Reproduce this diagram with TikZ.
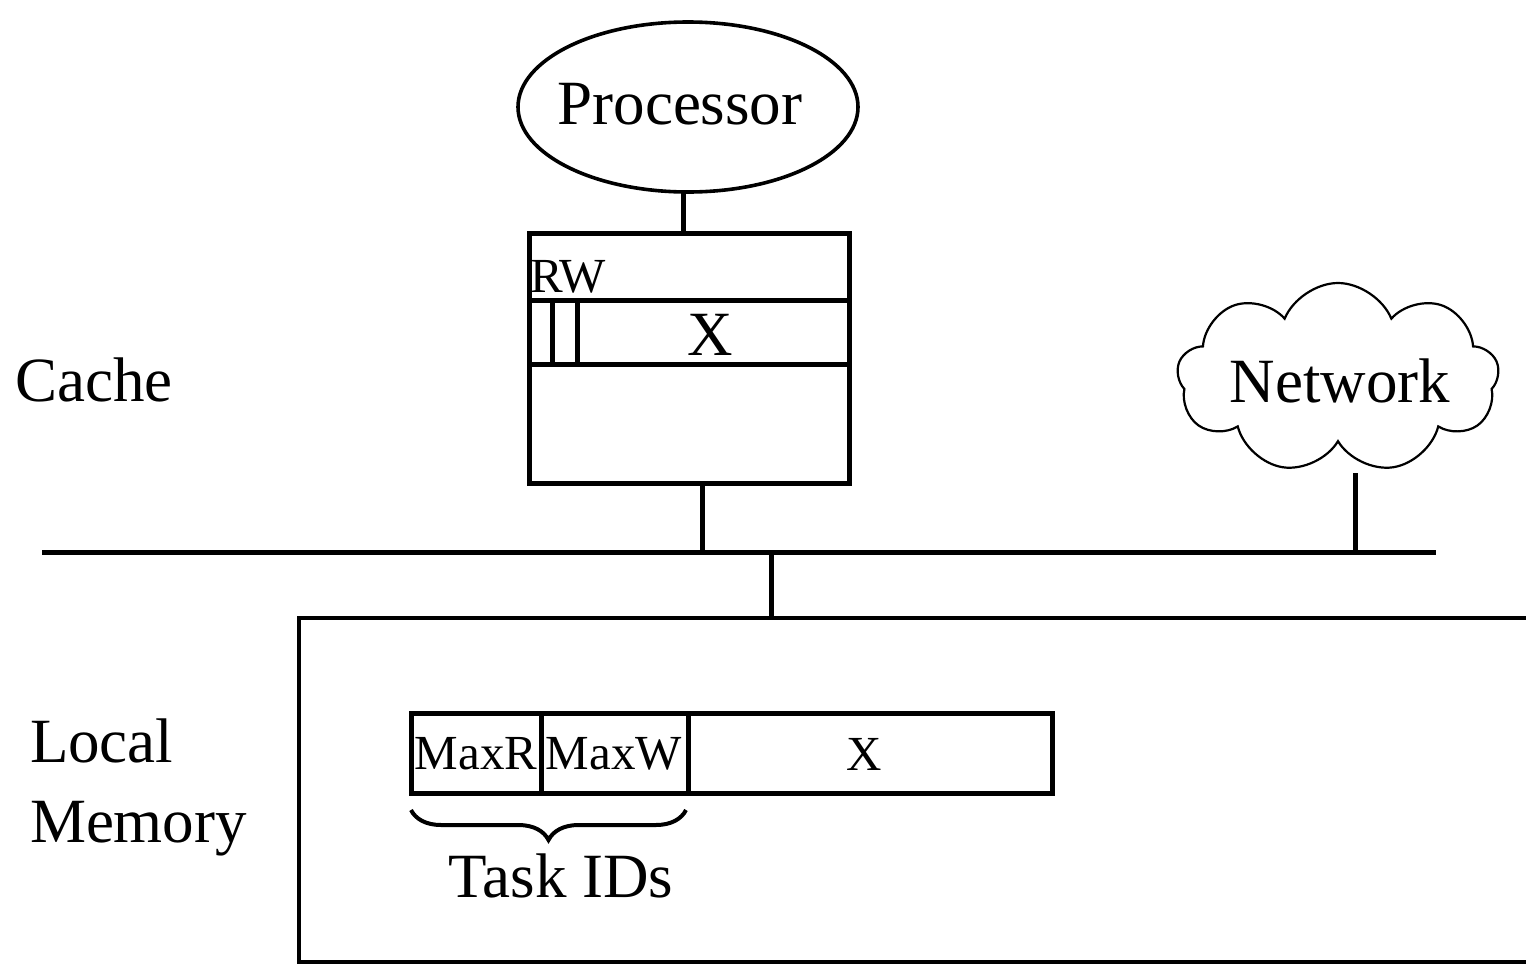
\documentclass[tikz,border=0pt]{standalone}
\usepackage{fontspec}
\setmainfont{Liberation Serif}
\usetikzlibrary{shapes.geometric,shapes.symbols,decorations.pathreplacing}
\tikzset{
  big/.style={font=\fontsize{31.5}{38}\selectfont},
  small/.style={font=\fontsize{24.5}{29}\selectfont},
  thick line/.style={line width=2.5pt},
  mid line/.style={line width=1.8pt},
  lbl/.style={inner sep=0pt, outer sep=0pt},
}
\begin{document}
\begin{tikzpicture}[x=0.5pt,y=-0.5pt]
\useasboundingbox (0,0) rectangle (1526,964);

% processor
\node[ellipse, draw, mid line, minimum width=170pt, minimum height=85pt, inner sep=0pt, big] (proc) at (688,107) {};
\node[lbl, big] (proctxt) at (680,104) {Processor};

% cache block
\coordinate (cTL) at (529,233);
\coordinate (cBR) at (849,483);
\draw[thick line] (cTL) rectangle (cBR);
\coordinate (l1a) at (529,300); \coordinate (l1b) at (849,300);
\coordinate (l2a) at (529,364); \coordinate (l2b) at (849,364);
\draw[thick line] (l1a) -- (l1b);
\draw[thick line] (l2a) -- (l2b);
\coordinate (r1a) at (552,300); \coordinate (r1b) at (552,364);
\coordinate (w1a) at (577,300); \coordinate (w1b) at (577,364);
\draw[thick line] (r1a) -- (r1b);
\draw[thick line] (w1a) -- (w1b);
\node[lbl, small, anchor=base west] (rw) at (530,292) {RW};
\node[lbl, big] (cx) at (710,335) {X};
\node[lbl, big] (cachelbl) at (94,380) {Cache};

% processor to cache
\coordinate (cTop) at (683,233);
\coordinate (pBot) at (683,191);
\draw[thick line] (pBot) -- (cTop);

% bus
\coordinate (busL) at (42,552);
\coordinate (busR) at (1436,552);
\draw[thick line] (busL) -- (busR);
\coordinate (cBot) at (702,483);
\coordinate (cBus) at (702,552);
\draw[thick line] (cBot) -- (cBus);

% network
\node[cloud, draw, line width=1.1pt, cloud puffs=9, cloud puff arc=135, aspect=1.7,
      minimum width=161pt, minimum height=95pt, inner sep=0pt] (net) at (1338,378) {};
\node[lbl, big] (nettxt) at (1340,381) {Network};
\coordinate (nBot) at (1355,473);
\coordinate (nBus) at (1355,552);
\draw[thick line] (nBot) -- (nBus);

% local memory
\coordinate (mBus) at (771,552);
\coordinate (mTop) at (771,618);
\draw[thick line] (mBus) -- (mTop);
\coordinate (mTR) at (1540,618);
\coordinate (mTL) at (299,618);
\coordinate (mBL) at (299,962);
\coordinate (mBR) at (1540,962);
\draw[mid line] (mTR) -- (mTL) -- (mBL) -- (mBR);
\node[lbl, big, anchor=west, align=left] (memlbl) at (30,787) {Local\\[2pt]Memory};

% memory record
\coordinate (rTL) at (411,713);
\coordinate (rBR) at (1052,793);
\draw[thick line] (rTL) rectangle (rBR);
\coordinate (d1a) at (541,713); \coordinate (d1b) at (541,793);
\coordinate (d2a) at (688,713); \coordinate (d2b) at (688,793);
\draw[thick line] (d1a) -- (d1b);
\draw[thick line] (d2a) -- (d2b);
\node[lbl, small] (maxr) at (476,754) {MaxR};
\node[lbl, small] (maxw) at (614,754) {MaxW};
\node[lbl, small] (mx) at (864,754) {X};

% task id brace
\coordinate (bL) at (411,810);
\coordinate (bR) at (686,810);
\draw[line width=2pt, decorate, decoration={brace, mirror, amplitude=15pt}] (bL) -- (bR);
\node[lbl, big] (tasks) at (561,876) {Task IDs};
\end{tikzpicture}
\end{document}
